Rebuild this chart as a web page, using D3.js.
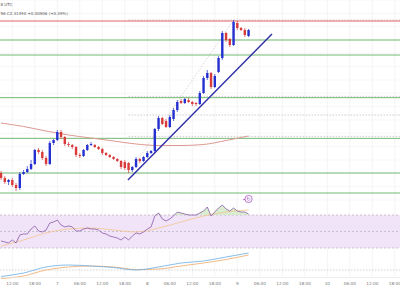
<!DOCTYPE html>
<html>
<head>
<meta charset="utf-8">
<script src="https://cdn.jsdelivr.net/npm/d3@7"></script>
<style>
body { margin: 0; background: #fff; }
svg { display: block; font-family: "DejaVu Sans", sans-serif; }
</style>
</head>
<body>
<div id="chart"></div>
<script>
// hourly candles, first one at 09:00 UTC on the 6th
const firstCandle = new Date("2024-12-06T09:00:00Z");

const opens  = [2.1005,2.093,2.087,2.090,2.0825,2.078,2.099,2.102,2.1065,2.114,2.135,2.132,2.123,2.114,2.1455,2.150,2.162,2.1545,2.144,2.1425,
                2.1395,2.1275,2.126,2.135,2.1425,2.1425,2.1395,2.1365,2.1305,2.1275,2.1245,2.1215,2.1185,2.117,2.1155,2.105,2.1095,2.1215,2.1185,2.1245,
                2.1305,2.1335,2.1665,2.183,2.1785,2.1695,2.1815,2.195,2.2085,2.2055,2.210,2.207,2.2055,2.204,2.2205,2.243,2.2505,2.2295,2.252,2.273,
                2.3105,2.3015,2.2925,2.3255,2.318,2.315,2.306];
const highs  = [2.1035,2.096,2.0915,2.093,2.0855,2.102,2.105,2.111,2.120,2.1365,2.138,2.135,2.126,2.1485,2.1515,2.165,2.165,2.156,2.147,2.144,
                2.141,2.1305,2.1365,2.144,2.147,2.144,2.141,2.138,2.132,2.129,2.126,2.123,2.120,2.120,2.117,2.111,2.1245,2.123,2.126,2.1335,
                2.135,2.168,2.186,2.1845,2.1815,2.1875,2.198,2.210,2.2115,2.213,2.213,2.2085,2.207,2.2235,2.246,2.255,2.252,2.249,2.276,2.3135,
                2.312,2.303,2.330,2.3285,2.3195,2.318,2.3165];
const lows   = [2.090,2.084,2.0825,2.0795,2.0735,2.075,2.0975,2.1005,2.105,2.1125,2.129,2.120,2.111,2.1125,2.1425,2.1485,2.1515,2.141,2.1395,2.1365,
                2.1245,2.123,2.1245,2.1335,2.141,2.138,2.135,2.1275,2.126,2.123,2.120,2.117,2.1065,2.105,2.1005,2.102,2.108,2.1155,2.117,2.123,
                2.129,2.1305,2.1635,2.1725,2.168,2.168,2.1785,2.192,2.204,2.204,2.2055,2.201,2.201,2.2025,2.219,2.240,2.2265,2.228,2.2505,2.270,
                2.297,2.2895,2.291,2.315,2.3135,2.3045,2.3045];
const closes = [2.093,2.087,2.090,2.0825,2.078,2.099,2.102,2.1065,2.114,2.135,2.132,2.123,2.114,2.1455,2.150,2.162,2.1545,2.144,2.1425,2.1395,
                2.1275,2.126,2.135,2.1425,2.144,2.1395,2.1365,2.1305,2.1275,2.1245,2.1215,2.1185,2.1095,2.108,2.105,2.1095,2.1215,2.1185,2.1245,2.1305,
                2.1335,2.1665,2.183,2.174,2.1695,2.1845,2.195,2.207,2.2055,2.2115,2.207,2.204,2.204,2.2205,2.243,2.2505,2.2295,2.246,2.273,2.3105,
                2.300,2.2925,2.327,2.318,2.315,2.3075,2.315];

const rsiValues = [38.5,37.3,36.1,39.7,36.1,45.8,47.0,47.0,53.0,56.7,50.6,49.4,51.8,60.3,61.5,63.9,57.9,55.5,56.7,55.5,
                   50.6,50.6,53.0,54.2,53.0,53.0,51.8,48.2,47.0,44.5,43.3,42.1,39.7,43.3,39.7,44.5,48.2,47.0,49.4,53.0,
                   55.5,68.8,72.4,65.2,62.7,65.2,68.8,73.6,72.4,71.2,70.0,70.0,70.0,72.4,74.8,79.7,68.8,73.6,78.5,82.1,
                   77.3,74.8,78.5,74.8,73.6,73.6,71.2];

// smooth studies, read every 6th candle
const studyCandles = [0,6,12,18,24,30,36,42,48,54,60,66];
const sma100     = [2.1755,2.17025,2.1635,2.1575,2.153,2.1485,2.144,2.14175,2.14175,2.14325,2.14925,2.156];
const rsiMa      = [32.4,39.7,48.2,53.0,54.2,51.8,49.4,54.2,61.5,68.8,73.6,76.1];
const macdLine   = [-0.0065,-0.003,0.003,0.005,0.004,0.0025,0.0,0.003,0.007,0.009,0.013,0.017];
const signalLine = [-0.0085,-0.006,0.0,0.003,0.004,0.003,0.0005,0.001,0.004,0.007,0.0105,0.015];

const supportLevels = [2.300, 2.2775, 2.2135, 2.1525, 2.1005, 2.0705];
const resistanceLevels = [2.3285];
const fibPrices = [2.330, 2.2155, 2.1875, 2.1555];
const fibStartCandle = 34;
const trendTimes = ["2024-12-07T18:50:00Z", "2024-12-09T09:15:00Z"];
const trendPrices = [2.090, 2.309];

// header, as much as the crop shows
const headerTime = "8 UTC";
const headerQuote = "56 C2.31490 +0.00906 (+0.39%)";

const W = 400, H = 300;
const svg = d3.select("#chart").append("svg").attr("width", W).attr("height", H);
svg.append("rect").attr("width", W).attr("height", H).attr("fill", "#fff");

const x = d3.scaleUtc()
    .domain([new Date("2024-12-06T08:43:12Z"), new Date("2024-12-10T19:23:12Z")])
    .range([0, W]);
const y = d3.scaleLinear().domain([2.06, 2.36]).range([200, 0]);
const yRsi = d3.scaleLinear().domain([30, 70]).range([248, 215]);
const yMacd = d3.scaleLinear().domain([-0.01, 0.02]).range([280, 250]);

const candleTime = i => d3.utcHour.offset(firstCandle, i);
const candles = opens.map((o, i) => ({t: candleTime(i), o: o, h: highs[i], l: lows[i], c: closes[i]}));

// grid
const timeTicks = x.ticks(d3.utcHour.every(6));
svg.append("g").selectAll("line").data(timeTicks).join("line")
    .attr("x1", d => x(d)).attr("x2", d => x(d))
    .attr("y1", 0).attr("y2", 277)
    .attr("stroke", "#ebebeb").attr("stroke-width", 0.6);
svg.append("g").selectAll("line").data(y.ticks(15)).join("line")
    .attr("x1", 0).attr("x2", W)
    .attr("y1", d => y(d)).attr("y2", d => y(d))
    .attr("stroke", "#f1f1f1").attr("stroke-width", 0.6);

// fib retracement
const fibX0 = x(candleTime(fibStartCandle));
svg.append("g").selectAll("line").data(fibPrices).join("line")
    .attr("x1", fibX0).attr("x2", W)
    .attr("y1", d => y(d)).attr("y2", d => y(d))
    .attr("stroke", "#b8b8b8").attr("stroke-width", 0.7)
    .attr("stroke-dasharray", "1.5,1.5");
svg.append("line")
    .attr("x1", fibX0).attr("y1", y(lows[fibStartCandle]))
    .attr("x2", x(candleTime(62))).attr("y2", y(highs[62]))
    .attr("stroke", "#c4c4c4").attr("stroke-width", 0.7)
    .attr("stroke-dasharray", "1.5,1.5");

// levels
svg.append("g").selectAll("line").data(supportLevels).join("line")
    .attr("x1", 0).attr("x2", W)
    .attr("y1", d => y(d)).attr("y2", d => y(d))
    .attr("stroke", "#73b873").attr("stroke-width", 1);
svg.append("g").selectAll("line").data(resistanceLevels).join("line")
    .attr("x1", 0).attr("x2", W)
    .attr("y1", d => y(d)).attr("y2", d => y(d))
    .attr("stroke", "#e06464").attr("stroke-width", 1);

// 100 sma
svg.append("path")
    .datum(studyCandles.map((c, i) => [candleTime(c), sma100[i]]))
    .attr("fill", "none").attr("stroke", "#dc9a92").attr("stroke-width", 1)
    .attr("d", d3.line().x(d => x(d[0])).y(d => y(d[1])).curve(d3.curveMonotoneX));

// candles
const up = "#2430cf", down = "#d93a3a";
const cg = svg.append("g");
cg.selectAll("line").data(candles).join("line")
    .attr("x1", d => x(d.t)).attr("x2", d => x(d.t))
    .attr("y1", d => y(d.h)).attr("y2", d => y(d.l))
    .attr("stroke", d => d.c >= d.o ? up : down).attr("stroke-width", 0.7);
cg.selectAll("rect").data(candles).join("rect")
    .attr("x", d => x(d.t) - 1.2).attr("width", 2.4)
    .attr("y", d => y(Math.max(d.o, d.c)))
    .attr("height", d => Math.max(0.8, Math.abs(y(d.o) - y(d.c))))
    .attr("fill", d => d.c >= d.o ? up : down);

// trend line
svg.append("line")
    .attr("x1", x(new Date(trendTimes[0]))).attr("y1", y(trendPrices[0]))
    .attr("x2", x(new Date(trendTimes[1]))).attr("y2", y(trendPrices[1]))
    .attr("stroke", "#2e2ea8").attr("stroke-width", 1.4);

// header
svg.append("text").attr("x", 0.5).attr("y", 6)
    .attr("font-size", 4).attr("fill", "#555").text(headerTime);
svg.append("text").attr("x", 0.5).attr("y", 15)
    .attr("font-size", 4).attr("fill", "#555").text(headerQuote);

// RSI panel
svg.append("rect").attr("x", 0).attr("width", W)
    .attr("y", yRsi(70)).attr("height", yRsi(30) - yRsi(70))
    .attr("fill", "#f1e3f8");
svg.append("g").selectAll("line").data([70, 50, 30]).join("line")
    .attr("x1", 0).attr("x2", W)
    .attr("y1", d => yRsi(d)).attr("y2", d => yRsi(d))
    .attr("stroke", "#a9a9b4").attr("stroke-width", 0.6)
    .attr("stroke-dasharray", "2,2");
const rsiPts = rsiValues.map((v, i) => [candleTime(i), v]);
svg.append("path").datum(rsiPts)
    .attr("fill", "#cfe9c4").attr("opacity", 0.8)
    .attr("d", d3.area().x(d => x(d[0])).y0(yRsi(70)).y1(d => yRsi(Math.max(70, d[1]))));
svg.append("path")
    .datum(studyCandles.map((c, i) => [candleTime(c), rsiMa[i]]))
    .attr("fill", "none").attr("stroke", "#f3c58f").attr("stroke-width", 0.8)
    .attr("d", d3.line().x(d => x(d[0])).y(d => yRsi(d[1])).curve(d3.curveMonotoneX));
svg.append("path").datum(rsiPts)
    .attr("fill", "none").attr("stroke", "#8a5aa8").attr("stroke-width", 0.8)
    .attr("d", d3.line().x(d => x(d[0])).y(d => yRsi(d[1])));

// alert marker
const ax = x(candleTime(66)), ay = 199;
svg.append("circle").attr("cx", ax).attr("cy", ay).attr("r", 3.6)
    .attr("fill", "#fff").attr("stroke", "#9c3fc0").attr("stroke-width", 0.7);
svg.append("circle").attr("cx", ax - 4.5).attr("cy", ay + 0.5).attr("r", 0.7).attr("fill", "#9c3fc0");
svg.append("text").attr("x", ax).attr("y", ay + 1.8).attr("text-anchor", "middle")
    .attr("font-size", 5).attr("fill", "#9c3fc0").text("↻");

// MACD panel
svg.append("line").attr("x1", 0).attr("x2", W)
    .attr("y1", yMacd(0)).attr("y2", yMacd(0))
    .attr("stroke", "#b5b5b5").attr("stroke-width", 0.6).attr("stroke-dasharray", "1.5,1.5");
const macdLineGen = d3.line().x(d => x(d[0])).y(d => yMacd(d[1])).curve(d3.curveMonotoneX);
svg.append("path").datum(studyCandles.map((c, i) => [candleTime(c), signalLine[i]]))
    .attr("fill", "none").attr("stroke", "#f0a868").attr("stroke-width", 0.8).attr("d", macdLineGen);
svg.append("path").datum(studyCandles.map((c, i) => [candleTime(c), macdLine[i]]))
    .attr("fill", "none").attr("stroke", "#6aaee6").attr("stroke-width", 0.8).attr("d", macdLineGen);

// time axis
svg.append("line").attr("x1", 0).attr("x2", W).attr("y1", 277.5).attr("y2", 277.5)
    .attr("stroke", "#e4e4e4").attr("stroke-width", 0.6);
const fmt = d => d.getUTCHours() === 0 ? d3.utcFormat("%-d")(d) : d3.utcFormat("%H:%M")(d);
svg.append("g").selectAll("text").data(timeTicks).join("text")
    .attr("x", d => x(d)).attr("y", 285)
    .attr("text-anchor", "middle").attr("font-size", 4.2).attr("fill", "#777")
    .text(fmt);
</script>
</body>
</html>
